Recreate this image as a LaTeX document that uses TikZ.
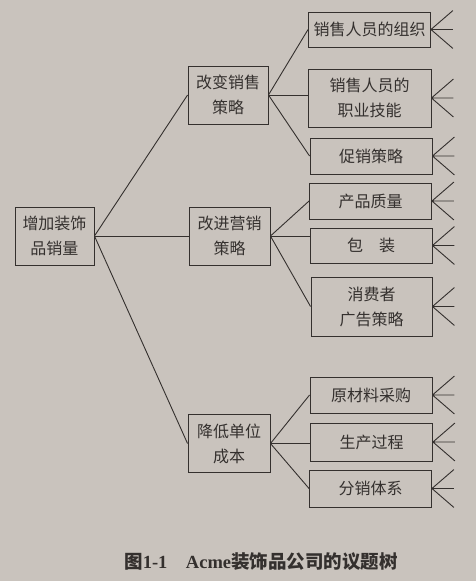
\documentclass[tikz,border=0pt]{standalone}
\usepackage{fontspec}
\setmainfont{Liberation Serif}
\newfontfamily\cjk{Noto Sans CJK SC}
\usepackage{tikz}
\usetikzlibrary{positioning,calc}

\definecolor{paper}{RGB}{201,195,189}
\definecolor{ink}{RGB}{52,48,46}

\tikzset{
  issue/.style={draw=ink,line width=0.9pt,inner sep=0pt,align=center,text=ink,
    font=\cjk\fontsize{16}{25}\selectfont},
  twoline/.style={issue,minimum height=58pt},
  oneline/.style={issue,minimum height=36pt,minimum width=122pt},
  branch/.style={draw=ink,line width=0.9pt}
}

\begin{document}
\begin{tikzpicture}[x=1pt,y=-1pt]

\filldraw[draw=none,fill=paper] (0,0) rectangle (476,581);
\useasboundingbox (0,0) rectangle (476,581);

\node[twoline,minimum width=79pt] (root) at (54.5,236) {增加装饰\\品销量};

\node[twoline,minimum width=80pt] (sales) at (228,95) {改变销售\\策略};
\node[twoline,minimum width=81pt] (mkt) at (229.5,236) {改进营销\\策略};
\node[twoline,minimum width=82pt] (cost) at (229,443.5) {降低单位\\成本};

\node[oneline,minimum height=35pt] (org) at (369.5,29.5) {销售人员的组织};
\node[twoline,minimum width=123pt] (skill) at (369.5,98) {销售人员的\\职业技能};
\node[oneline] (promo) at (371,156) {促销策略};

\node[oneline] (quality) at (370.5,201) {产品质量};
\node[oneline,minimum height=35pt] (pack) at (371,245.5) {包\hspace{1em}装};
\node[twoline,minimum width=121pt,minimum height=59pt] (ads) at (371.5,306.5) {消费者\\广告策略};

\node[oneline] (raw) at (371,395) {原材料采购};
\node[oneline,minimum height=38pt] (prod) at (371.5,442) {生产过程};
\node[oneline,minimum height=37pt] (dist) at (370.5,488.5) {分销体系};

\draw[branch] (root.east) -- (sales.west);
\draw[branch] (root.east) -- (mkt.west);
\draw[branch] (root.east) -- (cost.west);

\draw[branch] (sales.east) -- (org.west);
\draw[branch] (sales.east) -- (sales.east -| skill.west);
\draw[branch] (sales.east) -- (promo.west);

\draw[branch] (mkt.east) -- (quality.west);
\draw[branch] (mkt.east) -- (mkt.east -| pack.west);
\draw[branch] (mkt.east) -- (ads.west);

\draw[branch] (cost.east) -- (raw.west);
\draw[branch] (cost.east) -- (cost.east -| prod.west);
\draw[branch] (cost.east) -- (dist.west);

% open ends to the right
\foreach \leaf in {org,skill,promo,quality,pack,ads,raw,prod,dist}
  \draw[branch] (\leaf.east) -- +(22,-19) (\leaf.east) -- +(22,0) (\leaf.east) -- +(22,19);

\node[text=ink,font=\fontsize{18.5}{22}\selectfont\bfseries] (caption) at (261,562)
  {{\cjk 图}1-1\hspace{1em}Acme{\cjk 装饰品公司的议题树}};

\end{tikzpicture}
\end{document}
